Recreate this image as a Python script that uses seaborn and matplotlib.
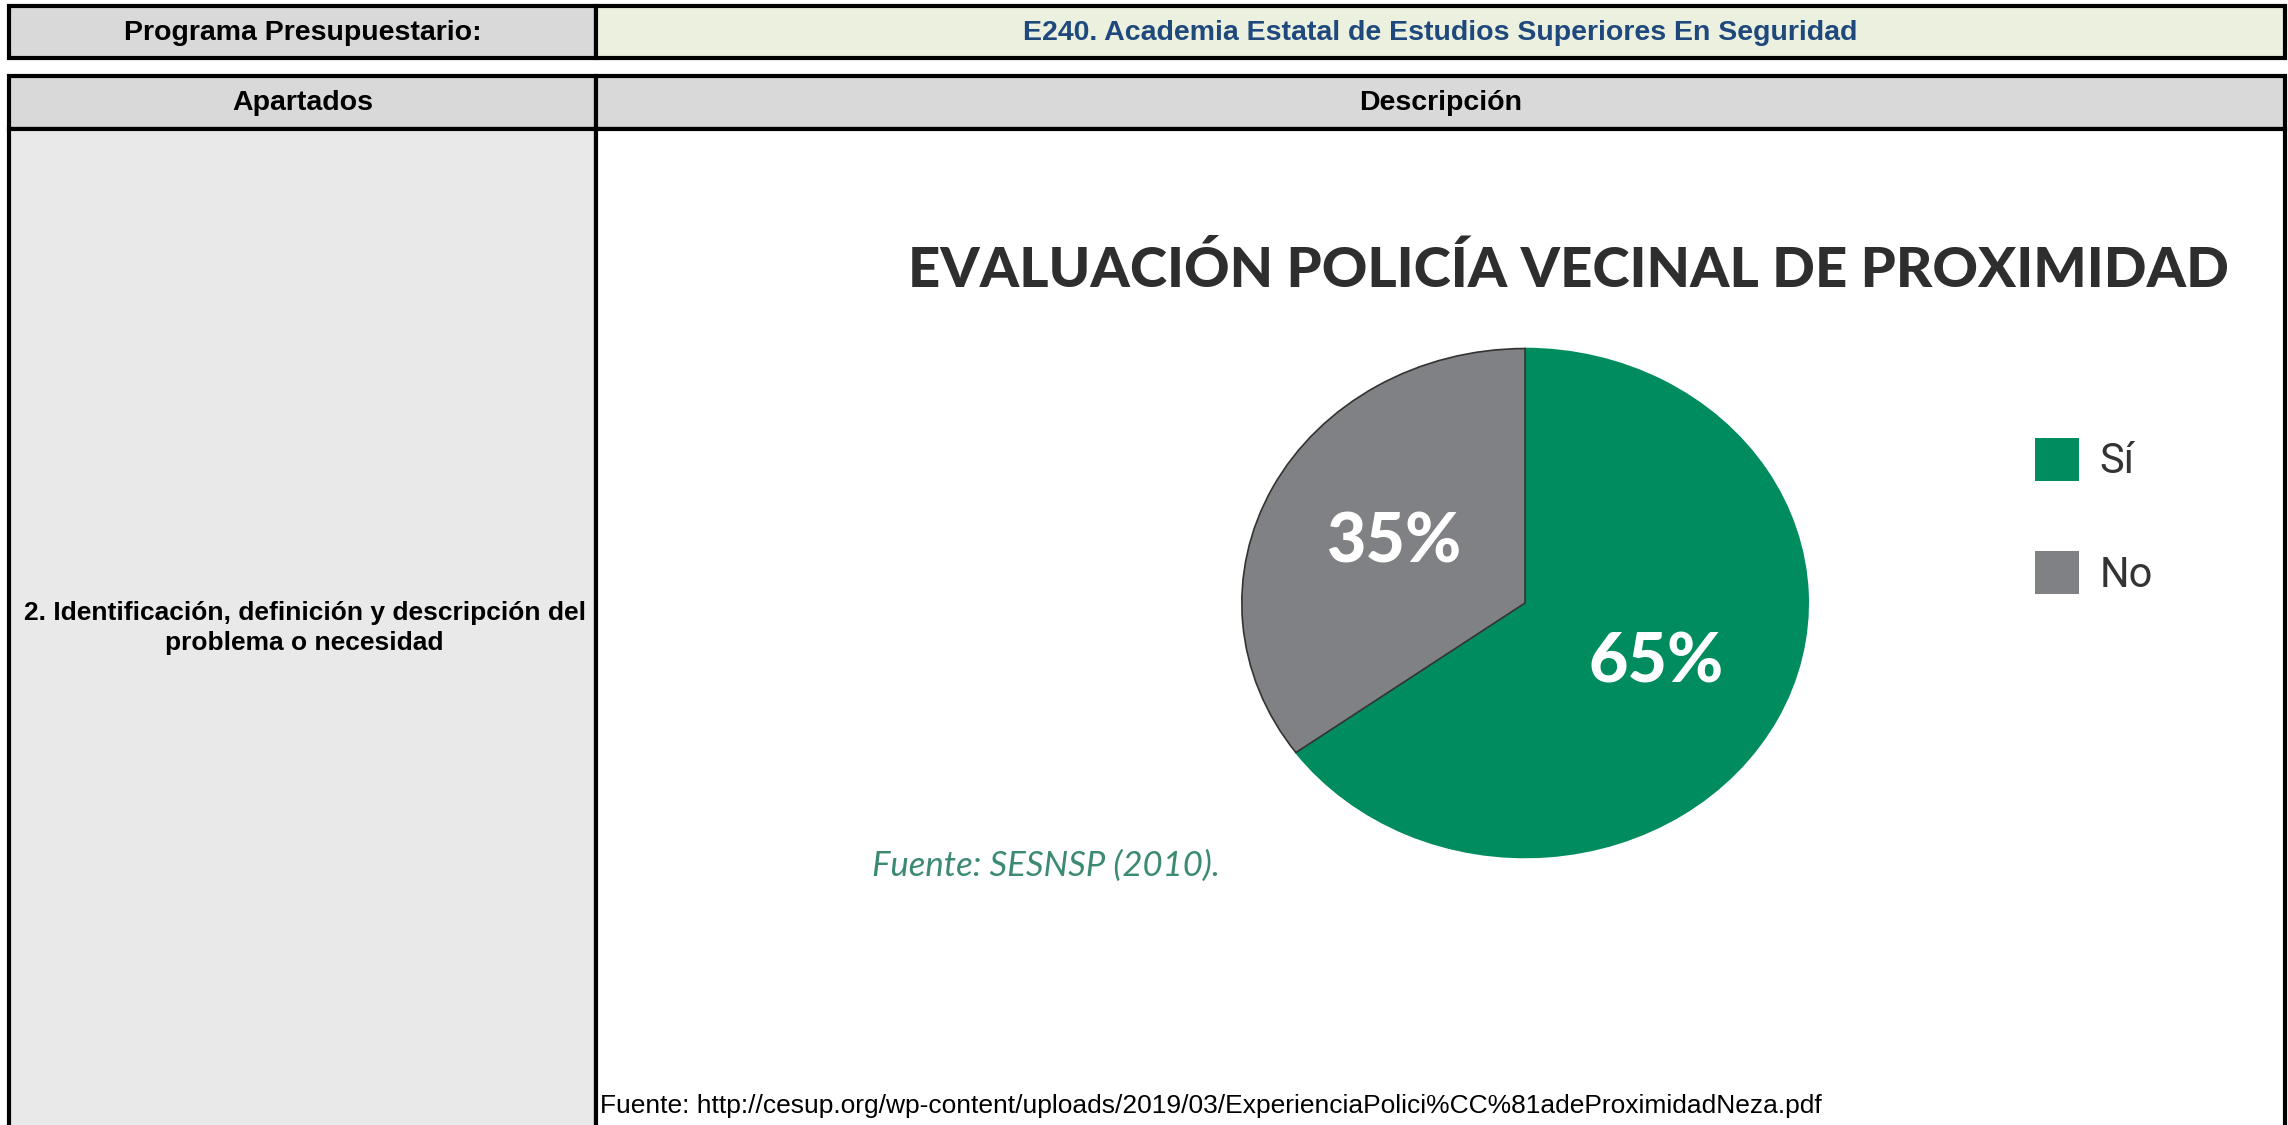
import matplotlib
matplotlib.use('Agg')
import matplotlib.pyplot as plt
from matplotlib.patches import Rectangle
import seaborn as sns

# datos del gráfico
categorias = ['Sí', 'No']
porcentajes = [65, 35]
colores = ['#008c5e', '#808184']

titulo = 'EVALUACIÓN POLICÍA VECINAL DE PROXIMIDAD'
programa = 'E240. Academia Estatal de Estudios Superiores En Seguridad'
apartado = '2. Identificación, definición y descripción del\nproblema o necesidad'
fuente_img = 'Fuente: SESNSP (2010).'
fuente_url = 'Fuente: http://cesup.org/wp-content/uploads/2019/03/ExperienciaPolici%CC%81adeProximidadNeza.pdf'

sns.set_theme(style='white')
plt.rcParams['font.family'] = ['Liberation Sans', 'DejaVu Sans']

W, H = 2288, 1125
fig = plt.figure(figsize=(W / 100, H / 100), dpi=100)
fig.patch.set_facecolor('white')

# capa de fondo en pixeles para la tabla
bg = fig.add_axes([0, 0, 1, 1])
bg.set_xlim(0, W)
bg.set_ylim(H, 0)
bg.axis('off')

x0, xm, x1 = 9, 596, 2285
celdas = [
    (x0, 6, xm - x0, 52, '#d9d9d9'),
    (xm, 6, x1 - xm, 52, '#ebf1de'),
    (x0, 76, xm - x0, 53, '#d9d9d9'),
    (xm, 76, x1 - xm, 53, '#d9d9d9'),
    (x0, 129, xm - x0, 1010, '#e9e9e9'),
    (xm, 129, x1 - xm, 1010, 'white'),
]
for x, y, w, h, c in celdas:
    bg.add_patch(Rectangle((x, y), w, h, facecolor=c, edgecolor='black', linewidth=3))

bg.text((x0 + xm) / 2, 33, 'Programa Presupuestario:', ha='center', va='center',
        fontsize=20.5, fontweight='bold', color='black')
bg.text((xm + x1) / 2, 33, programa, ha='center', va='center',
        fontsize=20.5, fontweight='bold', color='#1f497d')
bg.text((x0 + xm) / 2, 103, 'Apartados', ha='center', va='center',
        fontsize=20.5, fontweight='bold', color='black')
bg.text((xm + x1) / 2, 103, 'Descripción', ha='center', va='center',
        fontsize=20.5, fontweight='bold', color='black')
bg.text((x0 + xm) / 2 + 2, 628, apartado, ha='center', va='center',
        fontsize=19, fontweight='bold', color='black', linespacing=1.3)
bg.text(xm + 4, 1106, fuente_url, ha='left', va='center', fontsize=19, color='black')

# titulo y fuente de la imagen
bg.text(1568, 270, titulo, ha='center', va='center', fontsize=40.5, fontweight='black',
        color='#2e2e2e', family=['Lato', 'DejaVu Sans'])
bg.text(872, 866, fuente_img, ha='left', va='center', fontsize=25, style='italic',
        color='#3d8a74', family=['Lato', 'DejaVu Sans'])

# pastel (ligeramente eliptico como en la imagen original)
cx, cy, rx, ry = 1525, 603, 286, 257
ax = fig.add_axes([(cx - rx) / W, 1 - (cy + ry) / H, 2 * rx / W, 2 * ry / H])
wedges, textos, autotextos = ax.pie(
    porcentajes, colors=colores, startangle=90, counterclock=False,
    autopct='%d%%', pctdistance=0.52, radius=1,
    wedgeprops=dict(edgecolor='#333333', linewidth=1.2),
    textprops=dict(color='white', fontsize=49, fontweight='black', family=['Lato', 'DejaVu Sans']))
ax.set_aspect('auto')
ax.set_xlim(-1.01, 1.01)
ax.set_ylim(-1.01, 1.01)
ax.axis('off')
wedges[0].set_edgecolor(colores[0])

leg = fig.legend(wedges, categorias, loc='upper left',
                 bbox_to_anchor=(2035 / W, 1 - 438 / H), frameon=False,
                 handlelength=1.05, handleheight=1.2, handletextpad=0.5,
                 labelspacing=1.65, borderpad=0, borderaxespad=0,
                 prop=dict(family=['Liberation Sans Narrow', 'Roboto', 'DejaVu Sans'], size=30))
for t in leg.get_texts():
    t.set_color('#333333')
for h in leg.legend_handles:
    h.set_edgecolor('none')

fig.savefig('out.png', dpi=100)
